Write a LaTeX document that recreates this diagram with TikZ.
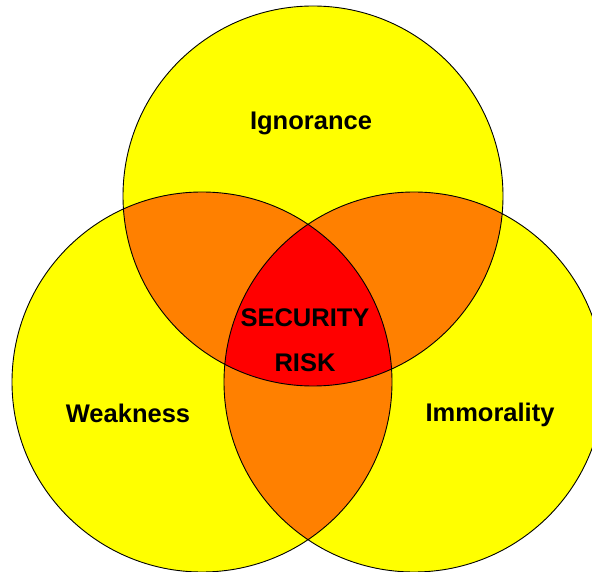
\documentclass[tikz,border=0pt]{standalone}
\usepackage{fontspec}
\setmainfont{Liberation Sans}
\definecolor{setyellow}{RGB}{255,255,0}
\definecolor{setorange}{RGB}{255,128,0}
\definecolor{setred}{RGB}{255,0,0}
\begin{document}
\begin{tikzpicture}[x=1pt,y=1pt,
    setlabel/.style={font=\fontsize{25.5}{45}\selectfont\bfseries,align=center}]
  \useasboundingbox (0,0) rectangle (592,571);
  \def\setrad{190pt}
  \coordinate (ign) at (313,375);
  \coordinate (weak) at (202,189);
  \coordinate (imm) at (414,189);
  % single sets
  \fill[setyellow] (ign) circle (\setrad) (weak) circle (\setrad) (imm) circle (\setrad);
  % pairs
  \begin{scope}
    \clip (ign) circle (\setrad);
    \fill[setorange] (weak) circle (\setrad) (imm) circle (\setrad);
  \end{scope}
  \begin{scope}
    \clip (weak) circle (\setrad);
    \fill[setorange] (imm) circle (\setrad);
  \end{scope}
  % all three
  \begin{scope}
    \clip (ign) circle (\setrad);
    \clip (weak) circle (\setrad);
    \fill[setred] (imm) circle (\setrad);
  \end{scope}
  \draw[line width=0.9pt] (ign) circle (\setrad) (weak) circle (\setrad) (imm) circle (\setrad);
  \node[setlabel] (ignorance) at (311,448) {Ignorance};
  \node[setlabel] (weakness) at (128,158) {Weakness};
  \node[setlabel] (immorality) at (490,156) {Immorality};
  \node[setlabel] (risk) at (305,231) {SECURITY\\RISK};
\end{tikzpicture}
\end{document}
